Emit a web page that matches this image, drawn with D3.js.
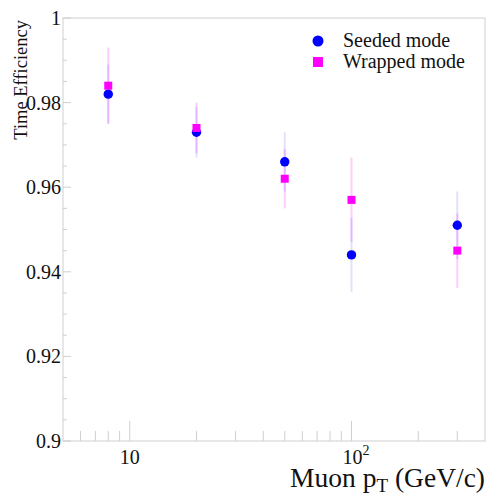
<!DOCTYPE html>
<html>
<head>
<meta charset="utf-8">
<script src="https://cdn.jsdelivr.net/npm/d3@7"></script>
<style>
  html, body { margin: 0; padding: 0; background: #fff; }
  svg text { font-family: "Liberation Serif", "Times New Roman", Tinos, "Nimbus Roman", Times, serif; fill: #111; }
</style>
</head>
<body>
<svg id="chart"></svg>
<script>
var $svg = {width: 487, height: 495};
var $margin = {left: 63, right: 2, top: 18, bottom: 54};

// momentum points (GeV/c)
var ptValues = [8, 20, 50, 100, 300];
// seeded mode
var seededEff = [0.982, 0.973, 0.966, 0.944, 0.951];
var seededErr = [0.007, 0.006, 0.007, 0.0088, 0.008];
// wrapped mode
var wrappedEff = [0.984, 0.974, 0.962, 0.957, 0.945];
var wrappedErr = [0.009, 0.006, 0.007, 0.010, 0.0088];

var yTicks = [0.9, 0.92, 0.94, 0.96, 0.98, 1];
var yTickLabels = ['0.9', '0.92', '0.94', '0.96', '0.98', '1'];
var xMajorTicks = [10, 100];
var xMinorTicks = [6, 7, 8, 9, 20, 30, 40, 50, 60, 70, 80, 90, 200, 300];

var $blue = '#0000ff';
var $magenta = '#ff00ff';
var $frame = '#cfcfcf';

function init () {
    var plotW = $svg.width - $margin.left - $margin.right;
    var plotH = $svg.height - $margin.top - $margin.bottom;

    var x = d3.scaleLog().domain([5, 400]).range([$margin.left, $margin.left + plotW]);
    var y = d3.scaleLinear().domain([0.9, 1]).range([$margin.top + plotH, $margin.top]);

    var svg = (
        d3.select('svg#chart')
        .attr('width', $svg.width)
        .attr('height', $svg.height)
    );

    // frame
    svg.append('rect')
        .attr('x', x(5)).attr('y', y(1))
        .attr('width', x(400) - x(5)).attr('height', y(0.9) - y(1))
        .attr('fill', 'none').attr('stroke', $frame).attr('stroke-width', 1);

    // y ticks: major + minor every 0.005
    var yMinor = d3.range(0, 21).map(i => 0.9 + i * 0.005);
    svg.append('g').selectAll('line').data(yMinor).join('line')
        .attr('x1', x(5)).attr('x2', (d, i) => x(5) + (i % 4 === 0 ? 8 : 4))
        .attr('y1', d => y(d)).attr('y2', d => y(d))
        .attr('stroke', $frame);

    svg.append('g').selectAll('text').data(yTicks).join('text')
        .attr('x', x(5) - 2).attr('y', d => y(d) + 7)
        .attr('text-anchor', 'end')
        .attr('font-size', 20)
        .text((d, i) => yTickLabels[i]);

    // x ticks
    svg.append('g').selectAll('line').data(xMinorTicks).join('line')
        .attr('x1', d => x(d)).attr('x2', d => x(d))
        .attr('y1', y(0.9)).attr('y2', y(0.9) - 10)
        .attr('stroke', $frame);
    svg.append('g').selectAll('line').data(xMajorTicks).join('line')
        .attr('x1', d => x(d)).attr('x2', d => x(d))
        .attr('y1', y(0.9)).attr('y2', y(0.9) - 20)
        .attr('stroke', $frame);

    svg.append('text')
        .attr('x', x(10)).attr('y', 464)
        .attr('text-anchor', 'middle').attr('font-size', 20)
        .text('10');
    var t100 = svg.append('text')
        .attr('x', x(100) - 9).attr('y', 464)
        .attr('font-size', 20);
    t100.append('tspan').text('10');
    t100.append('tspan').attr('font-size', 14).attr('dy', -9).text('2');

    // axis titles
    var xt = svg.append('text')
        .attr('x', 485).attr('y', 487)
        .attr('text-anchor', 'end').attr('font-size', 27.5);
    xt.append('tspan').text('Muon p');
    xt.append('tspan').attr('font-size', 19).attr('dy', 5).text('T');
    xt.append('tspan').attr('dy', -5).text(' (GeV/c)');

    svg.append('text')
        .attr('transform', 'translate(27,20) rotate(-90)')
        .attr('text-anchor', 'end').attr('font-size', 18.5)
        .text('Time Efficiency');

    // error bars
    var seeded = ptValues.map((p, i) => ({p: p, v: seededEff[i], e: seededErr[i]}));
    var wrapped = ptValues.map((p, i) => ({p: p, v: wrappedEff[i], e: wrappedErr[i]}));

    svg.append('g').selectAll('line').data(seeded).join('line')
        .attr('x1', d => x(d.p)).attr('x2', d => x(d.p))
        .attr('y1', d => y(d.v - d.e)).attr('y2', d => y(d.v + d.e))
        .attr('stroke', $blue).attr('stroke-opacity', 0.12).attr('stroke-width', 2);
    svg.append('g').selectAll('line').data(wrapped).join('line')
        .attr('x1', d => x(d.p)).attr('x2', d => x(d.p))
        .attr('y1', d => y(d.v - d.e)).attr('y2', d => y(d.v + d.e))
        .attr('stroke', $magenta).attr('stroke-opacity', 0.2).attr('stroke-width', 2);

    // markers
    svg.append('g').selectAll('circle').data(seeded).join('circle')
        .attr('cx', d => x(d.p)).attr('cy', d => y(d.v))
        .attr('r', 4.7).attr('fill', $blue);
    svg.append('g').selectAll('rect').data(wrapped).join('rect')
        .attr('x', d => x(d.p) - 4).attr('y', d => y(d.v) - 4)
        .attr('width', 8).attr('height', 8).attr('fill', $magenta);

    // legend
    var legend = svg.append('g');
    legend.append('circle').attr('cx', 318).attr('cy', 41).attr('r', 5.5).attr('fill', $blue);
    legend.append('rect').attr('x', 313).attr('y', 57).attr('width', 10).attr('height', 10).attr('fill', $magenta);
    legend.append('text').attr('x', 343).attr('y', 47).attr('font-size', 20).text('Seeded mode');
    legend.append('text').attr('x', 343).attr('y', 68).attr('font-size', 20).text('Wrapped mode');
}

init();
</script>
</body>
</html>
